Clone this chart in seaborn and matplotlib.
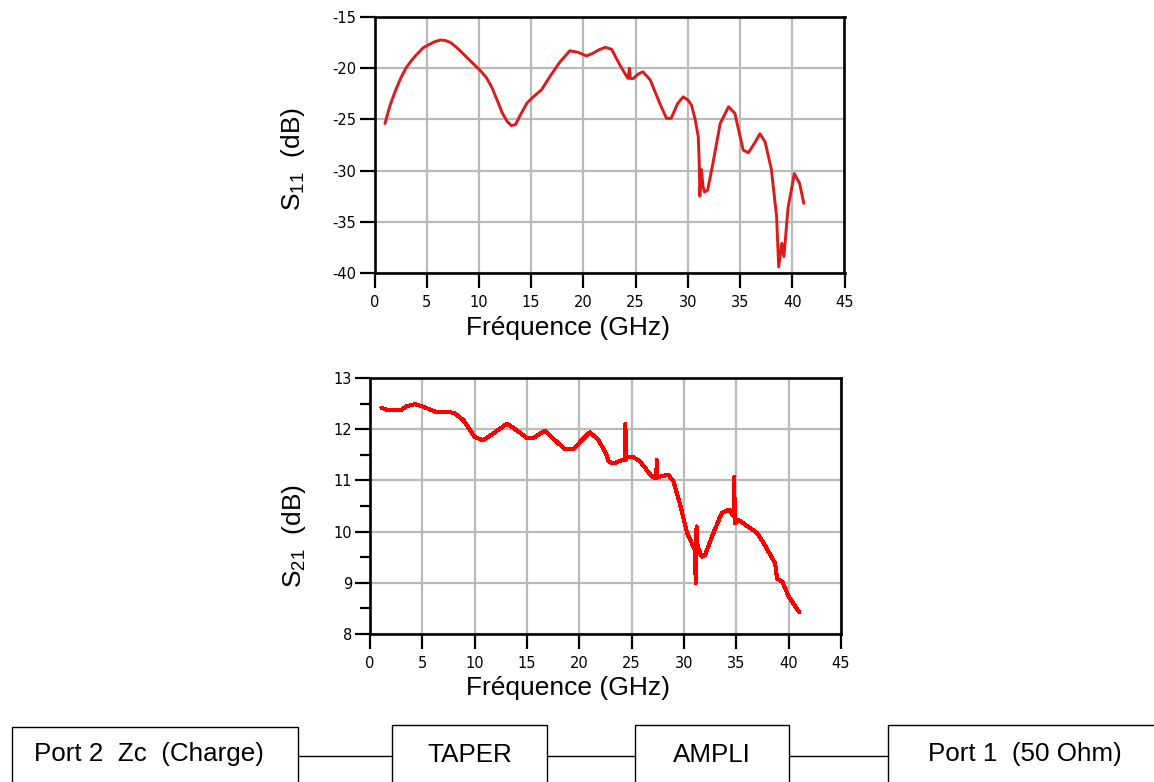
import matplotlib
matplotlib.use("Agg")
import matplotlib.pyplot as plt
from matplotlib.ticker import MultipleLocator
from matplotlib.patches import Rectangle
import seaborn as sns

# Reflection coefficient S11 (dB) versus frequency (GHz)
freq_s11 = [1.0, 1.5, 2.0, 2.5, 3.0, 3.5, 4.0, 4.67, 5.2, 5.8, 6.3, 6.8, 7.3, 8.0,
            8.7, 9.4, 10.1, 10.7, 11.2, 11.7, 12.2, 12.7, 13.1, 13.5, 14.0, 14.6,
            15.2, 16.0, 16.8, 17.75, 18.7, 19.5, 20.3, 20.9, 21.5, 22.1, 22.7,
            23.5, 24.2, 24.3, 24.4, 24.5, 24.8, 25.2, 25.7, 26.4, 27.3, 27.96,
            28.4, 29.0, 29.55, 30.0, 30.35, 30.7, 31.0, 31.1, 31.15, 31.3, 31.45,
            31.6, 31.9, 32.4, 33.1, 33.9, 34.5, 35.3, 35.8, 36.4, 36.9, 37.4,
            38.0, 38.5, 38.7, 39.0, 39.2, 39.6, 40.2, 40.7, 41.1]
s11_db = [-25.4, -23.6, -22.2, -21.0, -20.0, -19.3, -18.7, -18.0, -17.7, -17.4,
          -17.25, -17.3, -17.5, -18.1, -18.8, -19.5, -20.2, -20.9, -21.8, -23.0,
          -24.3, -25.2, -25.6, -25.5, -24.5, -23.4, -22.8, -22.1, -20.8, -19.4,
          -18.3, -18.45, -18.8, -18.55, -18.2, -17.96, -18.15, -19.7, -20.9,
          -21.0, -20.0, -21.0, -21.0, -20.6, -20.35, -21.15, -23.4, -24.9,
          -24.9, -23.5, -22.8, -23.1, -23.6, -25.0, -26.7, -29.5, -32.5, -29.9,
          -31.5, -32.1, -31.9, -29.3, -25.4, -23.76, -24.4, -28.0, -28.25,
          -27.3, -26.4, -27.2, -29.9, -34.5, -39.4, -37.1, -38.4, -33.6, -30.3,
          -31.25, -33.2]

# Transmission S21 (dB) versus frequency (GHz)
freq_s21 = [1.1, 1.6, 3.0, 3.5, 4.3, 4.94, 6.4, 7.5, 8.1, 8.9, 10.0, 10.8, 11.8,
            13.1, 14.0, 15.0, 15.6, 16.7, 18.6, 19.4, 21.0, 21.8, 22.6, 22.8,
            23.3, 24.1, 24.35, 24.4, 24.45, 24.55, 25.2, 25.8, 26.8, 27.2, 27.35,
            27.4, 27.45, 27.6, 28.5, 29.0, 29.6, 30.3, 31.05, 31.12, 31.2, 31.3,
            31.7, 32.0, 32.8, 33.6, 34.3, 34.75, 34.8, 34.85, 35.2, 37.0, 37.8,
            38.7, 38.9, 39.4, 40.0, 41.0]
s21_db = [12.42, 12.38, 12.38, 12.45, 12.49, 12.45, 12.33, 12.34, 12.31, 12.18,
          11.85, 11.78, 11.92, 12.11, 11.98, 11.83, 11.83, 11.97, 11.61, 11.61,
          11.94, 11.80, 11.50, 11.37, 11.33, 11.40, 11.40, 12.11, 11.40, 11.46,
          11.45, 11.37, 11.11, 11.04, 11.04, 11.40, 11.07, 11.07, 11.11, 10.98,
          10.55, 9.97, 9.64, 8.99, 10.10, 9.70, 9.51, 9.54, 9.97, 10.36, 10.43,
          10.30, 11.07, 10.16, 10.23, 9.97, 9.71, 9.38, 9.08, 9.02, 8.73, 8.43]

freq_ticks = [0, 5, 10, 15, 20, 25, 30, 35, 40, 45]
s11_ticks = [-40, -35, -30, -25, -20, -15]
s21_ticks = [8, 9, 10, 11, 12, 13]

blocks = ["Port 2  Zc  (Charge)", "TAPER", "AMPLI", "Port 1  (50 Ohm)"]

sns.set_theme(style="white")
plt.rcParams["font.family"] = ["Liberation Sans", "DejaVu Sans"]
plt.rcParams["axes.unicode_minus"] = False
plt.rcParams["mathtext.fontset"] = "custom"
plt.rcParams["mathtext.rm"] = "Liberation Sans"
plt.rcParams["mathtext.default"] = "regular"
plt.rcParams["text.color"] = "black"
plt.rcParams["axes.labelcolor"] = "black"
plt.rcParams["xtick.color"] = "black"
plt.rcParams["ytick.color"] = "black"

W, H = 1154, 782
fig = plt.figure(figsize=(W / 100, H / 100), dpi=100)


def px_rect(left, top, right, bottom):
    return [left / W, 1 - bottom / H, (right - left) / W, (bottom - top) / H]


def style_axes(ax, yticks, minor=None):
    ax.set_xlim(freq_ticks[0], freq_ticks[-1])
    ax.set_ylim(yticks[0], yticks[-1])
    ax.set_xticks(freq_ticks)
    ax.set_yticks(yticks)
    ax.set_xticklabels([str(t) for t in freq_ticks])
    ax.set_yticklabels([str(t) for t in yticks])
    if minor:
        ax.yaxis.set_minor_locator(MultipleLocator(minor))
    ax.grid(True, which="major", color="#b9b9b9", linewidth=1.6)
    ax.set_axisbelow(True)
    for sp in ax.spines.values():
        sp.set_color("black")
        sp.set_linewidth(1.9)
    ax.tick_params(axis="x", which="major", direction="out", length=11, width=1.6,
                   color="black", labelcolor="black", pad=5, labelsize=10.5,
                   labelfontfamily="DejaVu Sans", bottom=True)
    ax.tick_params(axis="y", which="major", direction="out", length=10.5, width=1.6,
                   color="black", labelcolor="black", pad=2.5, labelsize=10.5,
                   labelfontfamily="DejaVu Sans", left=True)
    ax.tick_params(axis="y", which="minor", direction="out", length=7, width=1.6,
                   color="black", left=True)


# S11 panel
ax1 = fig.add_axes(px_rect(374.5, 17, 844.5, 273))
sns.lineplot(x=freq_s11, y=s11_db, ax=ax1, color="#dc1a1a", linewidth=2.1,
             estimator=None, sort=False)
style_axes(ax1, s11_ticks)
ax1.set_xlabel("Fréquence (GHz)", fontsize=19, color="black")
ax1.xaxis.set_label_coords(0.412, -0.168)
ax1.set_ylabel("S$_{11}$  (dB)", fontsize=19, color="black")
ax1.yaxis.set_label_coords(-0.144, 0.445)

# S21 panel
ax2 = fig.add_axes(px_rect(370, 378, 841, 634))
sns.lineplot(x=freq_s21, y=s21_db, ax=ax2, color="#ff0000", linewidth=2.2,
             estimator=None, sort=False, antialiased=False)
style_axes(ax2, s21_ticks, minor=0.5)
ax2.set_xlabel("Fréquence (GHz)", fontsize=19, color="black")
ax2.xaxis.set_label_coords(0.420, -0.166)
ax2.set_ylabel("S$_{21}$  (dB)", fontsize=19, color="black")
ax2.yaxis.set_label_coords(-0.132, 0.381)

# Block chain along the bottom edge
axd = fig.add_axes([0, 0, 1, 1], zorder=-1)
axd.set_xlim(0, W)
axd.set_ylim(H, 0)
axd.axis("off")
box_edges = [(11.7, 297.7), (392.3, 546.7), (635, 789.3), (888.3, 1162)]
box_tops = [726.5, 725, 725, 725]
text_x = [149, 470, 712, 1025]
link_y = 756
for (x0, x1), top, label, tx in zip(box_edges, box_tops, blocks, text_x):
    axd.add_patch(Rectangle((x0, top), x1 - x0, 120, fill=False,
                            edgecolor="black", linewidth=1.0, clip_on=False))
    axd.text(tx, 761.5, label, ha="center", va="baseline", fontsize=18.7,
             color="black")
for (a0, a1), (b0, b1) in zip(box_edges[:-1], box_edges[1:]):
    axd.plot([a1, b0], [link_y, link_y], color="black", linewidth=1.0)

fig.savefig("out.png", dpi=100, facecolor="white")
